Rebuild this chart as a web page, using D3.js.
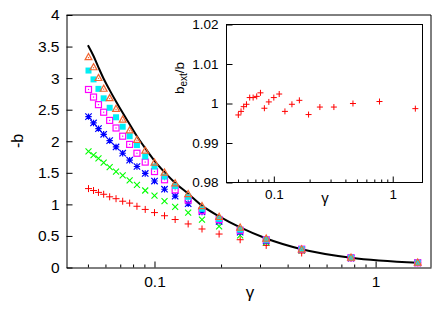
<!DOCTYPE html>
<html>
<head>
<meta charset="utf-8">
<script src="https://cdnjs.cloudflare.com/ajax/libs/d3/7.8.5/d3.min.js"></script>
<style>
  html, body { margin: 0; padding: 0; background: #fff; }
  svg { display: block; }
  text { font-family: "Liberation Sans", Arial, Helvetica, sans-serif; fill: #000; }
</style>
</head>
<body>
<svg id="chart" width="443" height="317"></svg>
<script>
// ---------------- data ----------------
const gamma = [0.0503, 0.053, 0.0558, 0.0589, 0.0627, 0.067, 0.0718, 0.0772, 0.0833, 0.0908,
               0.1, 0.111, 0.124, 0.142, 0.164, 0.196, 0.244, 0.32, 0.463, 0.774, 1.55];
const seriesRed     = [1.25, 1.22, 1.19, 1.16, 1.12, 1.09, 1.05, 1.02, 0.97, 0.92,
                       0.87, 0.82, 0.76, 0.69, 0.61, 0.53, 0.44, 0.35, 0.23, 0.15, 0.074];
const seriesGreen   = [1.84, 1.78, 1.73, 1.66, 1.59, 1.52, 1.46, 1.38, 1.31, 1.22,
                       1.14, 1.05, 0.96, 0.87, 0.76, 0.65, 0.51, 0.40, 0.27, 0.15, 0.075];
const seriesBlue    = [2.39, 2.29, 2.20, 2.11, 2.01, 1.91, 1.81, 1.70, 1.60, 1.49,
                       1.37, 1.24, 1.13, 1.01, 0.88, 0.73, 0.56, 0.42, 0.28, 0.15, 0.075];
const seriesMagenta = [2.82, 2.70, 2.58, 2.46, 2.33, 2.21, 2.08, 1.95, 1.81, 1.67,
                       1.52, 1.39, 1.23, 1.07, 0.90, 0.76, 0.59, 0.44, 0.29, 0.155, 0.075];
const seriesCyan    = [3.12, 2.98, 2.83, 2.68, 2.53, 2.38, 2.23, 2.08, 1.94, 1.76,
                       1.60, 1.44, 1.29, 1.12, 0.93, 0.77, 0.60, 0.44, 0.29, 0.155, 0.075];
const seriesOrange  = [3.33, 3.17, 3.00, 2.83, 2.68, 2.51, 2.34, 2.17, 2.02, 1.85,
                       1.66, 1.50, 1.33, 1.16, 0.97, 0.80, 0.63, 0.455, 0.286, 0.154, 0.075];
const curveGamma  = [0.05, 0.053, 0.0558, 0.0589, 0.0627, 0.067, 0.0718, 0.0772, 0.0833, 0.0908,
                     0.1, 0.111, 0.124, 0.142, 0.164, 0.196, 0.244, 0.32, 0.463, 0.774, 1.55];
const curveValues = [3.52, 3.35, 3.17, 2.99, 2.81, 2.63, 2.45, 2.27, 2.08, 1.89,
                     1.69, 1.51, 1.34, 1.17, 0.98, 0.81, 0.635, 0.46, 0.29, 0.155, 0.076];
const insetRatio  = [0.9971, 0.9980, 0.9992, 0.9998, 1.0015, 1.0015, 1.0018, 1.0027, 0.9988, 1.0004,
                     1.0015, 1.0024, 0.9980, 0.9998, 1.0008, 0.9972, 0.9991, 0.9991, 1.0000, 1.0005, 0.9987];

const mainYTicks  = [0, 0.5, 1, 1.5, 2, 2.5, 3, 3.5, 4];
const mainYLabels = ["0", "0.5", "1", "1.5", "2", "2.5", "3", "3.5", "4"];
const xMajorTicks = [0.1, 1];
const xMajorLabels = ["0.1", "1"];
const xMinorTicks = [0.05, 0.06, 0.07, 0.08, 0.09, 0.2, 0.3, 0.4, 0.5, 0.6, 0.7, 0.8, 0.9];
const insetYTicks  = [0.98, 0.99, 1.0, 1.01, 1.02];
const insetYLabels = ["0.98", "0.99", "1", "1.01", "1.02"];

// ---------------- layout ----------------
const svg = d3.select("#chart");
const M = { left: 66.5, right: 431, top: 15, bottom: 267.5 };
const I = { left: 226.5, right: 422.5, top: 24.5, bottom: 182.5 };

const x = d3.scaleLog().domain([0.04, 1.78]).range([M.left, M.right]);
const y = d3.scaleLinear().domain([0, 4]).range([M.bottom, M.top]);
const xi = d3.scaleLog().domain([0.04, 1.78]).range([I.left, I.right]);
const yi = d3.scaleLinear().domain([0.98, 1.02]).range([I.bottom, I.top]);

// ---------------- main axes ----------------
const fmtMap = (vals, labels) => d => labels[vals.indexOf(d)];

const gY = svg.append("g").attr("transform", `translate(${M.left},0)`)
  .call(d3.axisLeft(y).tickValues(mainYTicks).tickFormat(fmtMap(mainYTicks, mainYLabels))
        .tickSizeInner(-6).tickSizeOuter(0).tickPadding(7));
gY.selectAll("text").style("font-size", "15.5px");

const gX = svg.append("g").attr("transform", `translate(0,${M.bottom})`)
  .call(d3.axisBottom(x).tickValues(xMajorTicks).tickFormat(fmtMap(xMajorTicks, xMajorLabels))
        .tickSizeInner(-6).tickSizeOuter(0).tickPadding(8));
gX.selectAll("text").style("font-size", "15.5px");
svg.append("g").attr("transform", `translate(0,${M.bottom})`)
  .call(d3.axisBottom(x).tickValues(xMinorTicks).tickFormat("").tickSizeInner(-3).tickSizeOuter(0))
  .select(".domain").remove();

[gX, gY].forEach(g => g.select(".domain").attr("stroke", "#000").attr("stroke-width", 1));
svg.selectAll(".tick line").attr("stroke", "#000");

// top & right frame
svg.append("path")
  .attr("d", `M${M.left},${M.top}H${M.right}V${M.bottom}`)
  .attr("fill", "none").attr("stroke", "#000").attr("stroke-width", 1);

// axis titles
svg.append("text").attr("transform", "translate(23,141) rotate(-90)")
  .attr("text-anchor", "middle").style("font-size", "16px").text("-b");
svg.append("text").attr("x", 250).attr("y", 298)
  .attr("text-anchor", "middle").style("font-size", "17px").text("γ");

// ---------------- main data ----------------
const line = d3.line().x((d, i) => x(curveGamma[i])).y(d => y(d)).curve(d3.curveMonotoneX);
svg.append("path").datum(curveValues).attr("d", line)
  .attr("fill", "none").attr("stroke", "#000").attr("stroke-width", 2);

function drawPoints(g, xs, ys, values, color, shape, s) {
  values.forEach((v, i) => {
    const cx = xs(gamma[i]), cy = ys(v);
    if (shape === "plus") {
      g.append("path").attr("d", `M${cx - s},${cy}H${cx + s}M${cx},${cy - s}V${cy + s}`)
        .attr("stroke", color).attr("stroke-width", 1).attr("fill", "none");
    } else if (shape === "cross") {
      g.append("path").attr("d", `M${cx - s},${cy - s}L${cx + s},${cy + s}M${cx - s},${cy + s}L${cx + s},${cy - s}`)
        .attr("stroke", color).attr("stroke-width", 1.1).attr("fill", "none");
    } else if (shape === "star") {
      g.append("path").attr("d", `M${cx - s},${cy}H${cx + s}M${cx},${cy - s}V${cy + s}M${cx - s},${cy - s}L${cx + s},${cy + s}M${cx - s},${cy + s}L${cx + s},${cy - s}`)
        .attr("stroke", color).attr("stroke-width", 1.2).attr("fill", "none");
    } else if (shape === "box") {
      g.append("rect").attr("x", cx - s).attr("y", cy - s).attr("width", 2 * s).attr("height", 2 * s)
        .attr("stroke", color).attr("stroke-width", 1.2).attr("fill", "none");
      g.append("rect").attr("x", cx - 0.6).attr("y", cy - 0.6).attr("width", 1.2).attr("height", 1.2)
        .attr("fill", color);
    } else if (shape === "fbox") {
      g.append("rect").attr("x", cx - s).attr("y", cy - s).attr("width", 2 * s).attr("height", 2 * s)
        .attr("fill", color);
    } else if (shape === "tri") {
      g.append("path").attr("d", `M${cx},${cy - s * 1.1}L${cx + s},${cy + s * 0.7}L${cx - s},${cy + s * 0.7}Z`)
        .attr("stroke", color).attr("stroke-width", 1.2).attr("fill", "none");
      g.append("rect").attr("x", cx - 0.6).attr("y", cy - 0.3).attr("width", 1.2).attr("height", 1.2)
        .attr("fill", color);
    }
  });
}

const gPts = svg.append("g");
drawPoints(gPts, x, y, seriesRed, "#ff0000", "plus", 3.5);
drawPoints(gPts, x, y, seriesGreen, "#00ff00", "cross", 3);
drawPoints(gPts, x, y, seriesBlue, "#0000ff", "star", 3.2);
drawPoints(gPts, x, y, seriesMagenta, "#ff00ff", "box", 3);
drawPoints(gPts, x, y, seriesCyan, "#00eef5", "fbox", 3);
drawPoints(gPts, x, y, seriesOrange, "#f26530", "tri", 3.4);

// ---------------- inset ----------------
svg.append("rect").attr("x", I.left).attr("y", I.top)
  .attr("width", I.right - I.left).attr("height", I.bottom - I.top)
  .attr("fill", "#fff").attr("stroke", "#000").attr("stroke-width", 1);

const giY = svg.append("g").attr("transform", `translate(${I.left},0)`)
  .call(d3.axisLeft(yi).tickValues(insetYTicks).tickFormat(fmtMap(insetYTicks, insetYLabels))
        .tickSizeInner(-6).tickSizeOuter(0).tickPadding(8));
giY.selectAll("text").style("font-size", "13.5px");
const giX = svg.append("g").attr("transform", `translate(0,${I.bottom})`)
  .call(d3.axisBottom(xi).tickValues(xMajorTicks).tickFormat(fmtMap(xMajorTicks, xMajorLabels))
        .tickSizeInner(-6).tickSizeOuter(0).tickPadding(7));
giX.selectAll("text").style("font-size", "13.5px");
svg.append("g").attr("transform", `translate(0,${I.bottom})`)
  .call(d3.axisBottom(xi).tickValues(xMinorTicks).tickFormat("").tickSizeInner(-3).tickSizeOuter(0))
  .select(".domain").remove();
[giX, giY].forEach(g => g.select(".domain").remove());
svg.selectAll(".tick line").attr("stroke", "#000");

const yl = svg.append("text").attr("transform", "translate(184,78) rotate(-90)")
  .attr("text-anchor", "middle").style("font-size", "13.5px");
yl.append("tspan").text("b");
yl.append("tspan").attr("dy", 3).style("font-size", "10px").text("ext");
yl.append("tspan").attr("dy", -3).text("/b");

svg.append("text").attr("x", 325).attr("y", 203)
  .attr("text-anchor", "middle").style("font-size", "15px").text("γ");

const gInsetPts = svg.append("g");
drawPoints(gInsetPts, xi, yi, insetRatio, "#ff0000", "plus", 3);
</script>
</body>
</html>
